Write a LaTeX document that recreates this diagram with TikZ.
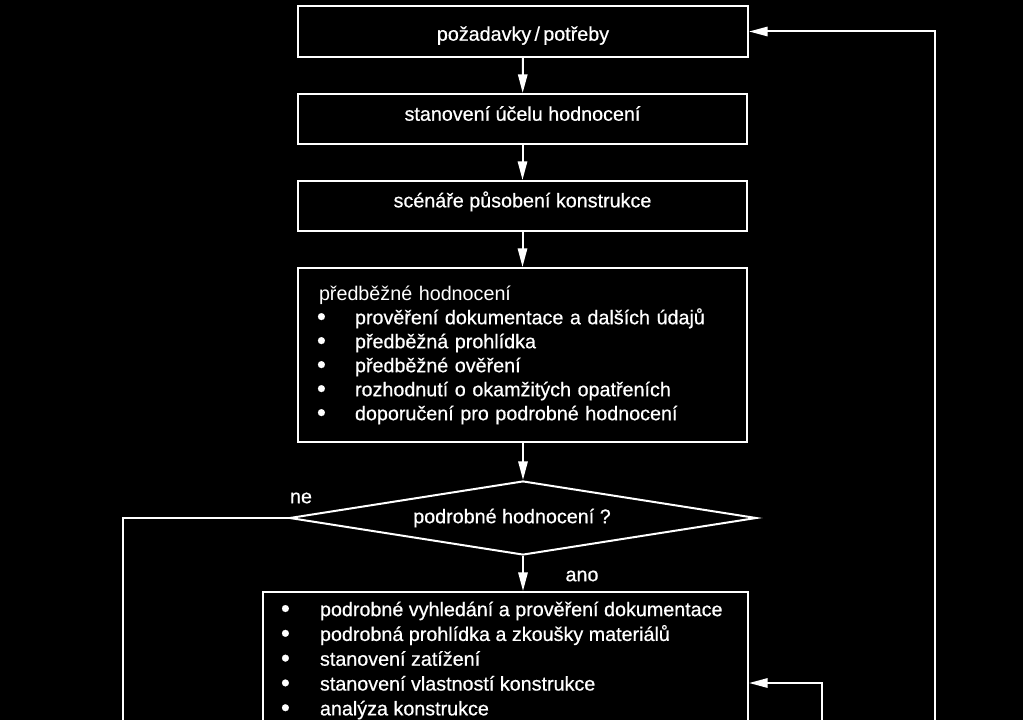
\documentclass[tikz,border=0pt]{standalone}
\usepackage{fontspec}
\setmainfont{Liberation Sans}
\newfontfamily\heavy{Liberation Sans}[FakeBold=0.6]
\usetikzlibrary{shapes.geometric,arrows.meta}
\newcommand{\bulA}{\makebox[28.5pt][l]{\fontsize{19}{18}\selectfont\raisebox{-0.6pt}{•}}}
\newcommand{\bulB}{\hspace*{13.5pt}\makebox[29.25pt][l]{\fontsize{19}{18}\selectfont\raisebox{-0.6pt}{•}}}
\begin{document}
\begin{tikzpicture}[x=0.75pt,y=-0.75pt,
  line width=1.5pt,
  txt/.style={text=white, inner sep=0pt, font=\heavy\fontsize{14.8}{18}\selectfont},
  box/.style={txt, draw=white, rectangle},
  arr/.style={draw=white, -{Triangle[length=14pt,width=7pt]}},
  ln/.style={draw=white}]
\useasboundingbox (0,0) rectangle (1023,720);
\fill[black] (0,0) rectangle (1023,720);
\clip (0,0) rectangle (1023,720);

\node[box, minimum width=337.5pt, minimum height=38.25pt, text height=13.8pt, text depth=0pt] (b1) at (523,31.5) {požadavky\,/\,potřeby};
\node[box, minimum width=336.75pt, minimum height=37.5pt, text height=5.6pt, text depth=3pt] (b2) at (522.5,119) {stanovení účelu hodnocení};
\node[box, minimum width=336.75pt, minimum height=37.5pt, text height=5pt, text depth=3pt] (b3) at (522.5,206) {scénáře působení konstrukce};
\node[box, minimum width=336.75pt, minimum height=130.5pt, text width=308.25pt, inner xsep=14.25pt, align=left] (b4) at (522.5,355)
 {\hspace*{1.5pt}{\normalfont\fontsize{14.8}{18}\selectfont předběžné hodnocení}\\
  \bulA prověření dokumentace a dalších údajů\\
  \bulA předběžná prohlídka\\
  \bulA předběžné ověření\\
  \bulA rozhodnutí o okamžitých opatřeních\\
  \bulA doporučení pro podrobné hodnocení};

\node[diamond, draw=white, aspect=6.3, inner sep=0pt, minimum width=350.25pt, minimum height=55.5pt] (d) at (523,518) {};
\node[txt] (dt) at (512,518) {podrobné hodnocení ?};
\node[txt] (ne) at (301,498) {ne};
\node[txt] (ano) at (582,576) {ano};

\node[box, anchor=north] (b5) at (505.5,591)
 {\begin{minipage}[c][150pt][t]{363.75pt}\heavy\fontsize{14.8}{18.6}\selectfont
  \vspace*{7.2pt}
  \bulB podrobné vyhledání a prověření dokumentace\\
  \bulB podrobná prohlídka a zkoušky materiálů\\
  \bulB stanovení zatížení\\
  \bulB stanovení vlastností konstrukce\\
  \bulB analýza konstrukce
  \end{minipage}};

\draw[arr] (b1) -- (b2);
\draw[arr] (b2) -- (b3);
\draw[arr] (b3) -- (b4);
\draw[arr] (d.north |- b4.south) -- (d.north);
\draw[arr] (d.south) -- (b5.north -| d.south);

\coordinate (lb) at (123,760);
\draw[ln] (d.west) -| (lb);

\coordinate (rb) at (935,760);
\draw[arr] (rb) |- (b1.east);

\coordinate (r5) at (822,683);
\coordinate (r5b) at (822,760);
\draw[arr] (r5b) -- (r5) -- (r5 -| b5.east);
\end{tikzpicture}
\end{document}
